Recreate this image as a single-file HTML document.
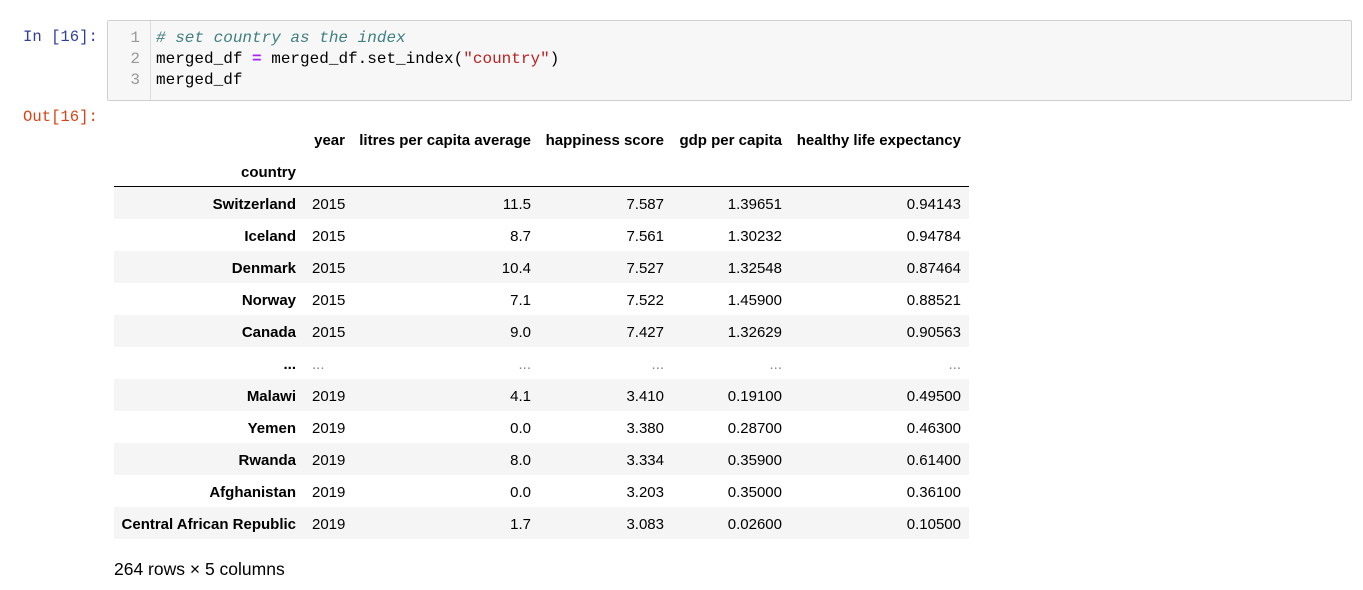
<!DOCTYPE html>
<html><head><meta charset="utf-8">
<style>
body{margin:0;width:1363px;height:590px;background:#fff;position:relative;overflow:hidden;font-family:"Liberation Sans",Arial,sans-serif;}
.abs{position:absolute;white-space:nowrap;}
.prompt{font-family:"Liberation Mono",monospace;font-size:15.6px;}
.code{font-family:"Liberation Mono",monospace;font-size:16px;line-height:21px;color:#000;}
.cell{font-size:15px;line-height:32px;height:32px;color:#000;}
.r{text-align:right;}
.b{font-weight:bold;}
</style></head><body>
<div class="abs prompt" style="left:23px;top:28px;color:#303f9f;">In [16]:</div>
<div class="abs" style="left:107px;top:20px;width:1243px;height:79px;background:#f7f7f7;border:1px solid #cfcfcf;border-radius:2px;"></div>
<div class="abs" style="left:108px;top:21px;width:42px;height:79px;background:#f7f7f7;border-right:1px solid #ddd;"></div>
<div class="abs code r" style="left:108px;top:28px;width:32px;color:#999;">1<br>2<br>3</div>
<div class="abs code" style="left:156px;top:28px;"><span style="color:#408080;font-style:italic">#&nbsp;set&nbsp;country&nbsp;as&nbsp;the&nbsp;index</span><br>merged_df <span style="color:#aa22ff;font-weight:bold">=</span> merged_df.set_index(<span style="color:#ba2121">"country"</span>)<br>merged_df</div>
<div class="abs prompt" style="left:23px;top:108px;color:#d84315;">Out[16]:</div>
<div id="tbl"></div>
<div class="abs" style="left:114px;top:559px;font-size:17.5px;color:#000;">264 rows × 5 columns</div>
<script>
const countries=["Switzerland","Iceland","Denmark","Norway","Canada","...","Malawi","Yemen","Rwanda","Afghanistan","Central African Republic"];
const years=["2015","2015","2015","2015","2015","...","2019","2019","2019","2019","2019"];
const litres=["11.5","8.7","10.4","7.1","9.0","...","4.1","0.0","8.0","0.0","1.7"];
const happiness=["7.587","7.561","7.527","7.522","7.427","...","3.410","3.380","3.334","3.203","3.083"];
const gdp=["1.39651","1.30232","1.32548","1.45900","1.32629","...","0.19100","0.28700","0.35900","0.35000","0.02600"];
const hle=["0.94143","0.94784","0.87464","0.88521","0.90563","...","0.49500","0.46300","0.61400","0.36100","0.10500"];
const headers=["year","litres per capita average","happiness score","gdp per capita","healthy life expectancy"];
const tbl=document.getElementById('tbl');
const colRight=[345,531,664,782,961];
function add(txt,left,width,top,cls,name,color){
  const d=document.createElement('div');
  d.className='abs cell '+cls;
  d.style.left=left+'px';d.style.width=width+'px';d.style.top=(top+2)+'px';
  if(color)d.style.color=color;
  d.textContent=txt;
  
  
  tbl.appendChild(d);
}
headers.forEach((h,i)=>{add(h,colRight[i]-250,250,123,'r b','column-header');});
add('country',100,196,155,'r b','index-name');
const line=document.createElement('div');
line.className='abs';line.style.cssText='left:114px;top:186px;width:855px;height:1px;background:#000;';


tbl.appendChild(line);
countries.forEach((c,i)=>{
  const top=187+i*32;
  if(i%2===0){
    const bg=document.createElement('div');
    bg.className='abs';bg.style.cssText='left:114px;top:'+top+'px;width:855px;height:32px;background:#f5f5f5;z-index:-1;';
    
    
    tbl.appendChild(bg);
  }
  const ell=c==='...';
  add(c,100,196,top,'r b','row-index');
  const vals=[years[i],litres[i],happiness[i],gdp[i],hle[i]];
  vals.forEach((v,j)=>{
    if(j===0) add(v,312,100,top,'','cell-value',ell?'#888':null);
    else add(v,colRight[j]-150,150,top,'r','cell-value',ell?'#888':null);
  });
});
</script>
</body></html>
